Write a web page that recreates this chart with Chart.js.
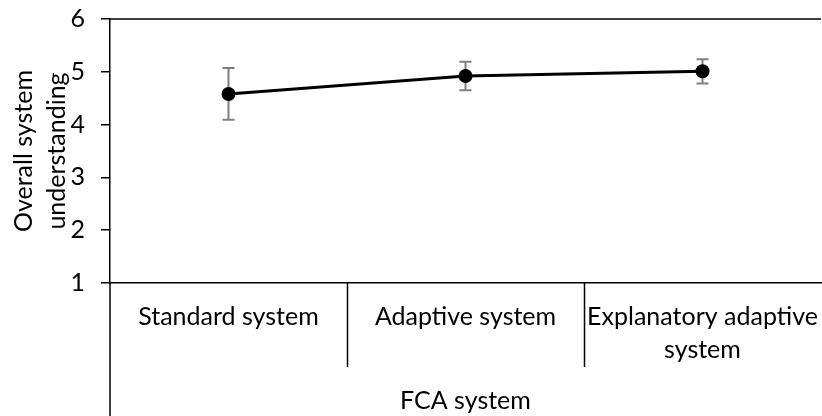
<!DOCTYPE html>
<html>
<head>
<meta charset="utf-8">
<script src="https://cdn.jsdelivr.net/npm/chart.js@4"></script>
<style>
    html, body { margin: 0; padding: 0; background: #fff; overflow: hidden; }
    #wrap { width: 828px; height: 416px; }
</style>
</head>
<body>
<div id="wrap"><canvas id="understandingChart"></canvas></div>
<script>
const categories = ['Standard system', 'Adaptive system', ['Explanatory adaptive', 'system']];
const means = [4.58, 4.92, 5.01];
const errors = [0.49, 0.27, 0.23];
const yTicks = [1, 2, 3, 4, 5, 6];

const FONT = 'Lato, "Open Sans", sans-serif';

// dividers, top border, left axis extension and error bars
const extrasPlugin = {
    id: 'extras',
    beforeDatasetsDraw(chart) {
        const ctx = chart.ctx;
        const x = chart.scales.x, y = chart.scales.y;
        const area = chart.chartArea;
        ctx.save();
        ctx.strokeStyle = '#000';
        ctx.lineWidth = 1.5;
        ctx.beginPath();
        ctx.moveTo(area.left, area.top);
        ctx.lineTo(area.right, area.top);
        ctx.moveTo(area.left, area.bottom);
        ctx.lineTo(area.left, chart.height);
        for (let i = 1; i < categories.length; i++) {
            const px = Math.round(x.getPixelForValue(i - 0.5)) + 0.5;
            ctx.moveTo(px, area.bottom);
            ctx.lineTo(px, area.bottom + 84);
        }
        ctx.stroke();

        ctx.strokeStyle = '#7f7f7f';
        ctx.lineWidth = 2;
        ctx.beginPath();
        means.forEach((m, i) => {
            const px = x.getPixelForValue(i);
            const top = y.getPixelForValue(m + errors[i]);
            const bot = y.getPixelForValue(m - errors[i]);
            ctx.moveTo(px, top); ctx.lineTo(px, bot);
            ctx.moveTo(px - 6, top); ctx.lineTo(px + 6, top);
            ctx.moveTo(px - 6, bot); ctx.lineTo(px + 6, bot);
        });
        ctx.stroke();
        ctx.restore();
    }
};

new Chart(document.getElementById('understandingChart'), {
    type: 'line',
    data: {
        labels: categories,
        datasets: [{
            data: means,
            borderColor: '#000',
            backgroundColor: '#000',
            borderWidth: 3,
            pointRadius: 7,
            pointBackgroundColor: '#000',
            pointBorderWidth: 0,
            tension: 0
        }]
    },
    options: {
        responsive: true,
        maintainAspectRatio: false,
        animation: false,
        layout: { padding: { top: 19, right: 1, left: 0, bottom: 0 } },
        plugins: {
            legend: { display: false },
            tooltip: { enabled: false }
        },
        scales: {
            x: {
                offset: true,
                grid: { display: false, drawTicks: false },
                border: { display: true, color: '#000', width: 1.5 },
                ticks: {
                    color: '#000',
                    font: { family: FONT, size: 25, lineHeight: 1.3 },
                    padding: 18,
                    maxRotation: 0,
                    autoSkip: false
                },
                title: {
                    display: true,
                    text: 'FCA system',
                    color: '#000',
                    font: { family: FONT, size: 25 },
                    padding: { top: 0, bottom: 0 }
                },
                afterFit: s => { s.height = 133; s.paddingLeft = 0; s.paddingRight = 0; }
            },
            y: {
                min: 1,
                max: 6,
                afterBuildTicks: s => { s.ticks = yTicks.map(v => ({ value: v })); },
                grid: { drawOnChartArea: false, tickLength: 9, color: '#000', lineWidth: 1.5 },
                border: { color: '#000', width: 1.5 },
                ticks: {
                    color: '#000',
                    font: { family: FONT, size: 25 },
                    padding: 16
                },
                title: {
                    display: true,
                    text: ['Overall system', 'understanding'],
                    color: '#000',
                    font: { family: FONT, size: 25, lineHeight: 1.3 },
                    padding: { top: 8, bottom: 0 }
                },
                afterFit: s => { s.width = 110; s.paddingTop = 0; s.paddingBottom = 0; }
            }
        }
    },
    plugins: [extrasPlugin]
});
</script>
</body>
</html>
